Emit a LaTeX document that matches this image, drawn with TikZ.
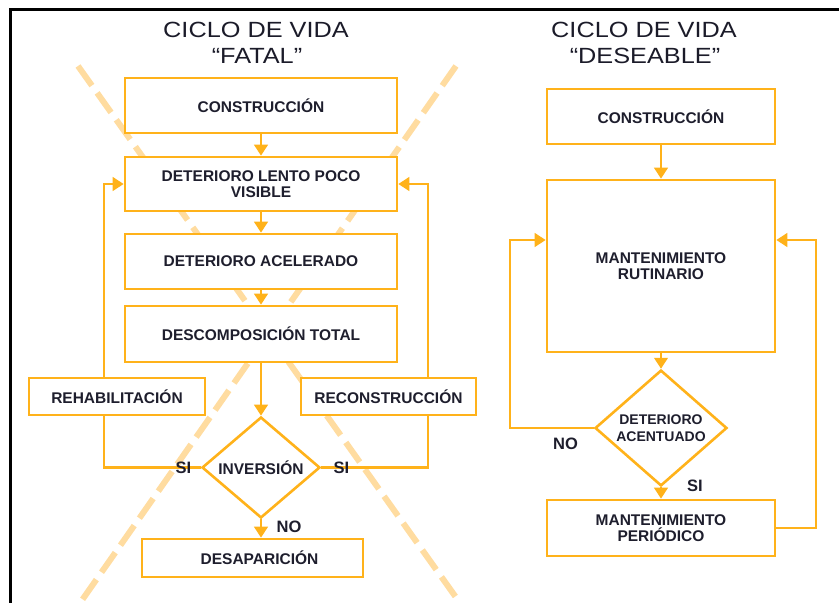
\documentclass[tikz,border=0pt]{standalone}
\usepackage{fontspec}
\setmainfont{Liberation Sans}
\newfontfamily\titlefont[FakeStretch=1.15]{Liberation Sans}
\usetikzlibrary{arrows.meta,shapes.geometric}
\definecolor{boxc}{RGB}{255,178,26}
\definecolor{xdash}{RGB}{255,220,160}
\definecolor{ink}{RGB}{30,30,45}
\begin{document}
\begin{tikzpicture}[x=1pt,y=-1pt,
  boxn/.style={draw=boxc, line width=2.6pt, fill=white, inner sep=0pt, align=center,
    font=\bfseries\fontsize{15.5}{16.5}\selectfont, text=ink},
  dia/.style={diamond, draw=boxc, line width=2.6pt, fill=white, inner sep=0pt, align=center,
    font=\bfseries\fontsize{15.5}{16.5}\selectfont, text=ink},
  arr/.style={draw=boxc, line width=2.6pt, -{Triangle[width=13.5pt,length=11pt]}},
  ln/.style={draw=boxc, line width=2.6pt},
  lab/.style={font=\bfseries\fontsize{16.5}{18}\selectfont, text=ink, inner sep=0pt},
  ttl/.style={font=\titlefont\fontsize{22}{26}\selectfont, text=ink!90!black, anchor=base, inner sep=0pt},
  xline/.style={draw=xdash, line width=6pt, dash pattern=on 24pt off 9pt}
]
\useasboundingbox (0,0) rectangle (839,603);
% crossing dashed lines
\draw[xline] (78,66) -- (460,603);
\draw[xline] (456,66) -- (80,603);
% frame
\draw[line width=3.5pt, black] (10.5,603) -- (10.5,9.5) -- (839,9.5);

% titles
\node[ttl] (t1a) at (256,37.5) {CICLO DE VIDA};
\node[ttl] (t1b) at (257,63) {“FATAL”};
\node[ttl] (t2a) at (644,37.5) {CICLO DE VIDA};
\node[ttl] (t2b) at (645,63) {“DESEABLE”};

% left column
\node[boxn, minimum width=272pt, minimum height=55pt] (c1) at (261,105.5) {CONSTRUCCIÓN};
\node[boxn, minimum width=272pt, minimum height=54pt] (c2) at (261,184) {DETERIORO LENTO POCO\\VISIBLE};
\node[boxn, minimum width=272pt, minimum height=55pt] (c3) at (261,261.5) {DETERIORO ACELERADO};
\node[boxn, minimum width=272pt, minimum height=56pt] (c4) at (261,334) {DESCOMPOSICIÓN TOTAL};
\node[boxn, minimum width=176pt, minimum height=37pt] (reh) at (117,396.5) {REHABILITACIÓN};
\node[boxn, minimum width=175pt, minimum height=37pt] (rec) at (388.5,396.5) {RECONSTRUCCIÓN};
\node[dia, minimum width=118pt, minimum height=101pt] (inv) at (261,467.5) {INVERSIÓN};
\node[boxn, minimum width=221pt, minimum height=38pt] (des) at (252.5,558) {\hspace*{14pt}DESAPARICIÓN};

\coordinate (lx) at (104,0);
\coordinate (rx) at (428,0);

\draw[arr] (c1) -- (c2);
\draw[arr] (c2) -- (c3);
\draw[arr] (c3) -- (c4);
\draw[arr] (c4) -- (inv);
\draw[arr] (inv.south) -- (inv.south |- des.north);
\draw[ln] (inv.west) -| (reh.south -| lx);
\draw[arr] (reh.north -| lx) |- (c2.west);
\draw[ln] (inv.east) -| (rec.south -| rx);
\draw[arr] (rec.north -| rx) |- (c2.east);

\node[lab] (si1) at (183.5,467.5) {SI};
\node[lab] (si2) at (341.5,467.5) {SI};
\node[lab] (no1) at (289,526.5) {NO};

% right column
\node[boxn, minimum width=228pt, minimum height=55pt] (d1) at (661,116.5) {CONSTRUCCIÓN};
\node[boxn, minimum width=228pt, minimum height=172pt] (d2) at (661,266) {MANTENIMIENTO\\RUTINARIO};
\node[dia, minimum width=132pt, minimum height=113pt, font=\bfseries\fontsize{14}{16.5}\selectfont] (dd) at (661,428) {DETERIORO\\ACENTUADO};
\node[boxn, minimum width=228pt, minimum height=56pt] (d3) at (661,528) {MANTENIMIENTO\\PERIÓDICO};

\coordinate (nl) at (510,240);
\coordinate (sr) at (816,240);

\draw[arr] (d1) -- (d2);
\draw[arr] (d2) -- (dd);
\draw[arr] (dd) -- (d3);
\draw[arr] (dd.west) -| (nl) -- (nl -| d2.west);
\draw[arr] (d3.east) -| (sr) -- (sr -| d2.east);

\node[lab] (no2) at (565.5,444) {NO};
\node[lab] (si3) at (695,485.5) {SI};
\end{tikzpicture}
\end{document}
